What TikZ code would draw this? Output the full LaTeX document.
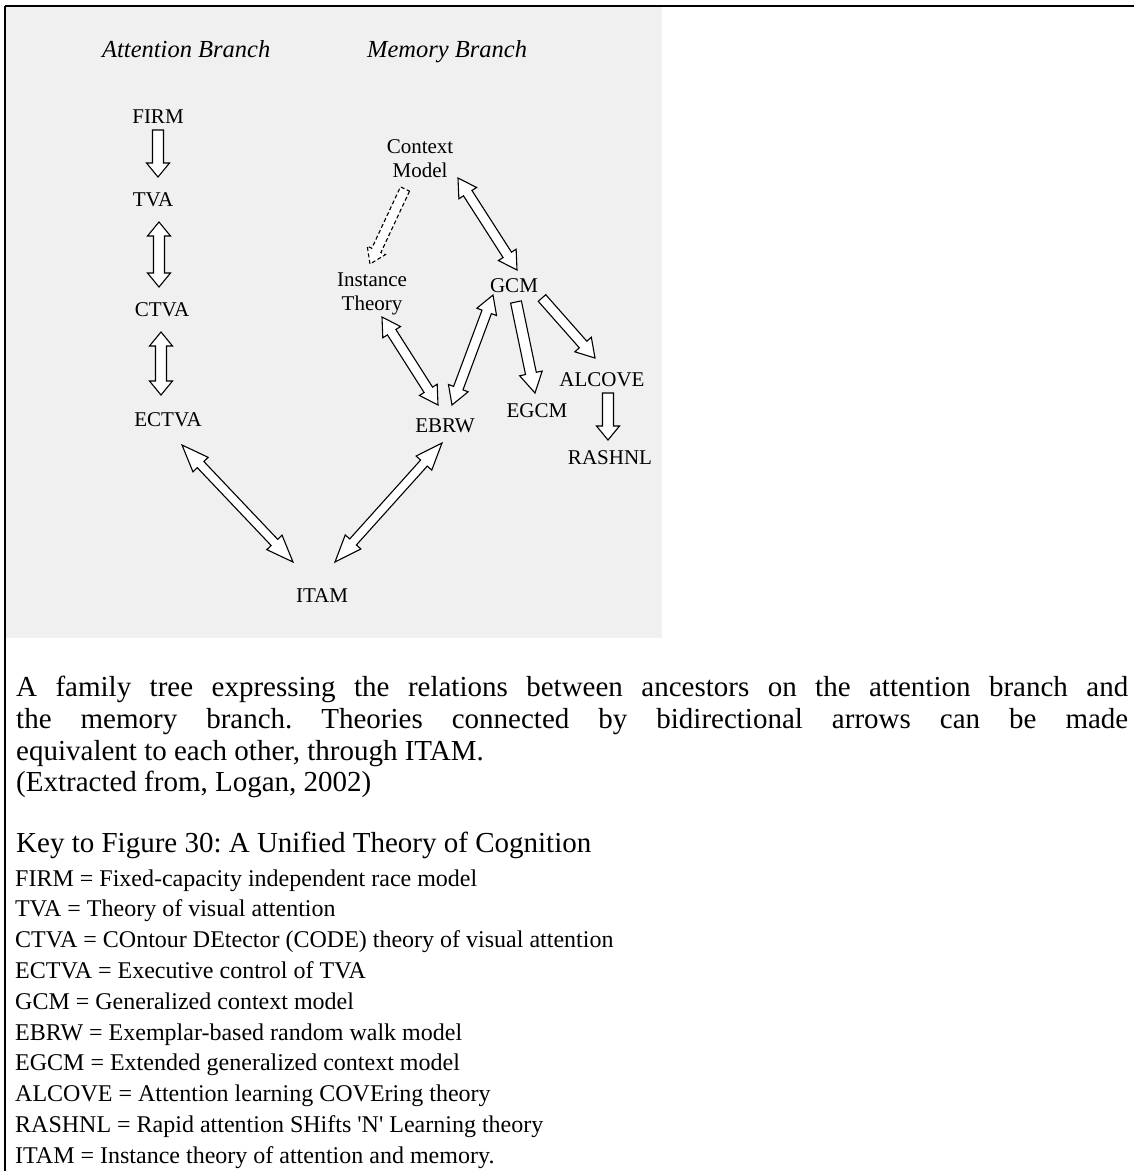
\documentclass[tikz,border=0pt]{standalone}
\usepackage{fontspec}
\setmainfont{Liberation Serif}
\usetikzlibrary{calc}
\frenchspacing
\tikzset{
  baextra/.style={},
  ba/.cd,
  sw/.store in=\basw, hw/.store in=\bahw, hl/.store in=\bahl,
  dashline/.code={\tikzset{baextra/.style={dash pattern=on 4pt off 2.5pt}}},
  sw=5.5pt, hw=11.5pt, hl=16pt
}
\tikzset{
  lbl/.style={font=\fontsize{21}{24}\selectfont, inner sep=0pt, align=center},
  headlbl/.style={font=\fontsize{24.5}{27}\selectfont\itshape, inner sep=0pt, anchor=base west},
  blockarrow/.style={draw=black, fill=white, line width=1.1pt, line join=miter},
  capline/.style={font=\fontsize{29}{34}\selectfont, inner sep=0pt, anchor=base west},
  keyline/.style={font=\fontsize{24}{28}\selectfont, inner sep=0pt, anchor=base west}
}
\newcommand\onearrow[3][]{%
  \begingroup\tikzset{ba/.cd,#1}%
  \path (#2) coordinate (ba-a) (#3) coordinate (ba-b);
  \path ($(ba-b)!\bahl!(ba-a)$) coordinate (ba-n);
  \draw[blockarrow,baextra] ($(ba-a)!\basw!90:(ba-b)$) -- ($(ba-n)!\basw!90:(ba-b)$)
     -- ($(ba-n)!\bahw!90:(ba-b)$) -- (ba-b) -- ($(ba-n)!\bahw!-90:(ba-b)$)
     -- ($(ba-n)!\basw!-90:(ba-b)$) -- ($(ba-a)!\basw!-90:(ba-b)$) -- cycle;
  \endgroup}
\newcommand\twoarrow[3][]{%
  \begingroup\tikzset{ba/.cd,#1}%
  \path (#2) coordinate (ba-a) (#3) coordinate (ba-b);
  \path ($(ba-a)!\bahl!(ba-b)$) coordinate (ba-m) ($(ba-b)!\bahl!(ba-a)$) coordinate (ba-n);
  \draw[blockarrow,baextra] (ba-a) -- ($(ba-m)!\bahw!90:(ba-b)$) -- ($(ba-m)!\basw!90:(ba-b)$)
     -- ($(ba-n)!\basw!90:(ba-b)$) -- ($(ba-n)!\bahw!90:(ba-b)$) -- (ba-b)
     -- ($(ba-n)!\bahw!-90:(ba-b)$) -- ($(ba-n)!\basw!-90:(ba-b)$)
     -- ($(ba-m)!\basw!-90:(ba-b)$) -- ($(ba-m)!\bahw!-90:(ba-b)$) -- cycle;
  \endgroup}
\begin{document}
\begin{tikzpicture}[x=1pt,y=-1pt]
\useasboundingbox (0,0) rectangle (1134,1171);
\fill[black!6] (5,6) rectangle (662,638);
\draw[line width=2pt] (5,6) -- (1134,6);
\draw[line width=1.5pt] (5,6) -- (5,1171);

% headings
\node[headlbl] (hatt) at (102,57) {Attention Branch};
\node[headlbl] (hmem) at (367,57) {Memory Branch};

% attention branch
\node[lbl] (firm)  at (158,117) {FIRM};
\node[lbl] (tva)   at (153,200) {TVA};
\node[lbl] (ctva)  at (162,310) {CTVA};
\node[lbl] (ectva) at (168,420) {ECTVA};

% memory branch
\node[lbl] (cm)     at (420,159) {Context\\Model};
\node[lbl] (it)     at (372,294) {Instance\\Theory};
\node[lbl] (gcm)    at (514,286) {GCM};
\node[lbl] (ebrw)   at (445,426) {EBRW};
\node[lbl] (egcm)   at (537,411) {EGCM};
\node[lbl] (alcove) at (602,380) {ALCOVE};
\node[lbl] (rashnl) at (610,458) {RASHNL};
\node[lbl] (itam)   at (322,596) {ITAM};

% arrows
\onearrow[hl=14pt]{$(firm)+(0,13)$}{$(tva)+(5,-23)$}
\twoarrow[hl=14pt]{$(tva)+(6,22)$}{$(ctva)+(-3,-23)$}
\twoarrow[hl=14pt]{$(ctva)+(-1,22)$}{$(ectva)+(-7,-25)$}
\onearrow[dashline,sw=5pt,hw=10pt,hl=15pt]{$(cm)+(-15,30)$}{$(it)+(-2,-30)$}
\twoarrow[sw=5pt,hw=10.5pt,hl=18pt]{$(cm)+(38,19)$}{$(gcm)+(3,-16)$}
\twoarrow[sw=5pt,hw=10.5pt,hl=18pt]{$(it)+(10,23)$}{$(ebrw)+(-7,-21)$}
\twoarrow[sw=5pt,hw=10.5pt,hl=18pt]{$(gcm)+(-21,9)$}{$(ebrw)+(7,-21)$}
\onearrow[sw=5.5pt,hw=11.5pt,hl=20pt]{$(gcm)+(2,16)$}{$(egcm)+(-2,-18)$}
\onearrow[sw=5pt,hw=11pt,hl=18pt]{$(gcm)+(28,12)$}{$(alcove)+(-7,-22)$}
\onearrow[hl=14pt]{$(alcove)+(6,13)$}{$(rashnl)+(-2,-18)$}
\twoarrow[sw=4.5pt,hw=10.5pt,hl=27pt]{$(ectva)+(14,25)$}{$(itam)+(-29,-34)$}
\twoarrow[sw=4.5pt,hw=10.5pt,hl=27pt]{$(ebrw)+(-3,17)$}{$(itam)+(13,-34)$}

% caption
\node[capline] (cap1) at (16,696) {\makebox[1112pt][s]{A family tree expressing the relations between ancestors on the attention branch and}};
\node[capline] (cap2) at (16,728) {\makebox[1112pt][s]{the memory branch. Theories connected by bidirectional arrows can be made}};
\node[capline] (cap3) at (16,760) {equivalent to each other, through ITAM.};
\node[capline] (cap4) at (16,791) {(Extracted from, Logan, 2002)};
\node[capline] (keyt) at (16,852) {Key to Figure 30: A Unified Theory of Cognition};

% key list
\node[keyline] (k1)  at (15,886)   {FIRM = Fixed-capacity independent race model};
\node[keyline] (k2)  at (15,916.8) {TVA = Theory of visual attention};
\node[keyline] (k3)  at (15,947.6) {CTVA = COntour DEtector (CODE) theory of visual attention};
\node[keyline] (k4)  at (15,978.4) {ECTVA = Executive control of TVA};
\node[keyline] (k5)  at (15,1009.2){GCM = Generalized context model};
\node[keyline] (k6)  at (15,1040)  {EBRW = Exemplar-based random walk model};
\node[keyline] (k7)  at (15,1070.8){EGCM = Extended generalized context model};
\node[keyline] (k8)  at (15,1101.6){ALCOVE = Attention learning COVEring theory};
\node[keyline] (k9)  at (15,1132.4){RASHNL = Rapid attention SHifts \textquotesingle N\textquotesingle{} Learning theory};
\node[keyline] (k10) at (15,1163.2){ITAM = Instance theory of attention and memory.};
\end{tikzpicture}
\end{document}
